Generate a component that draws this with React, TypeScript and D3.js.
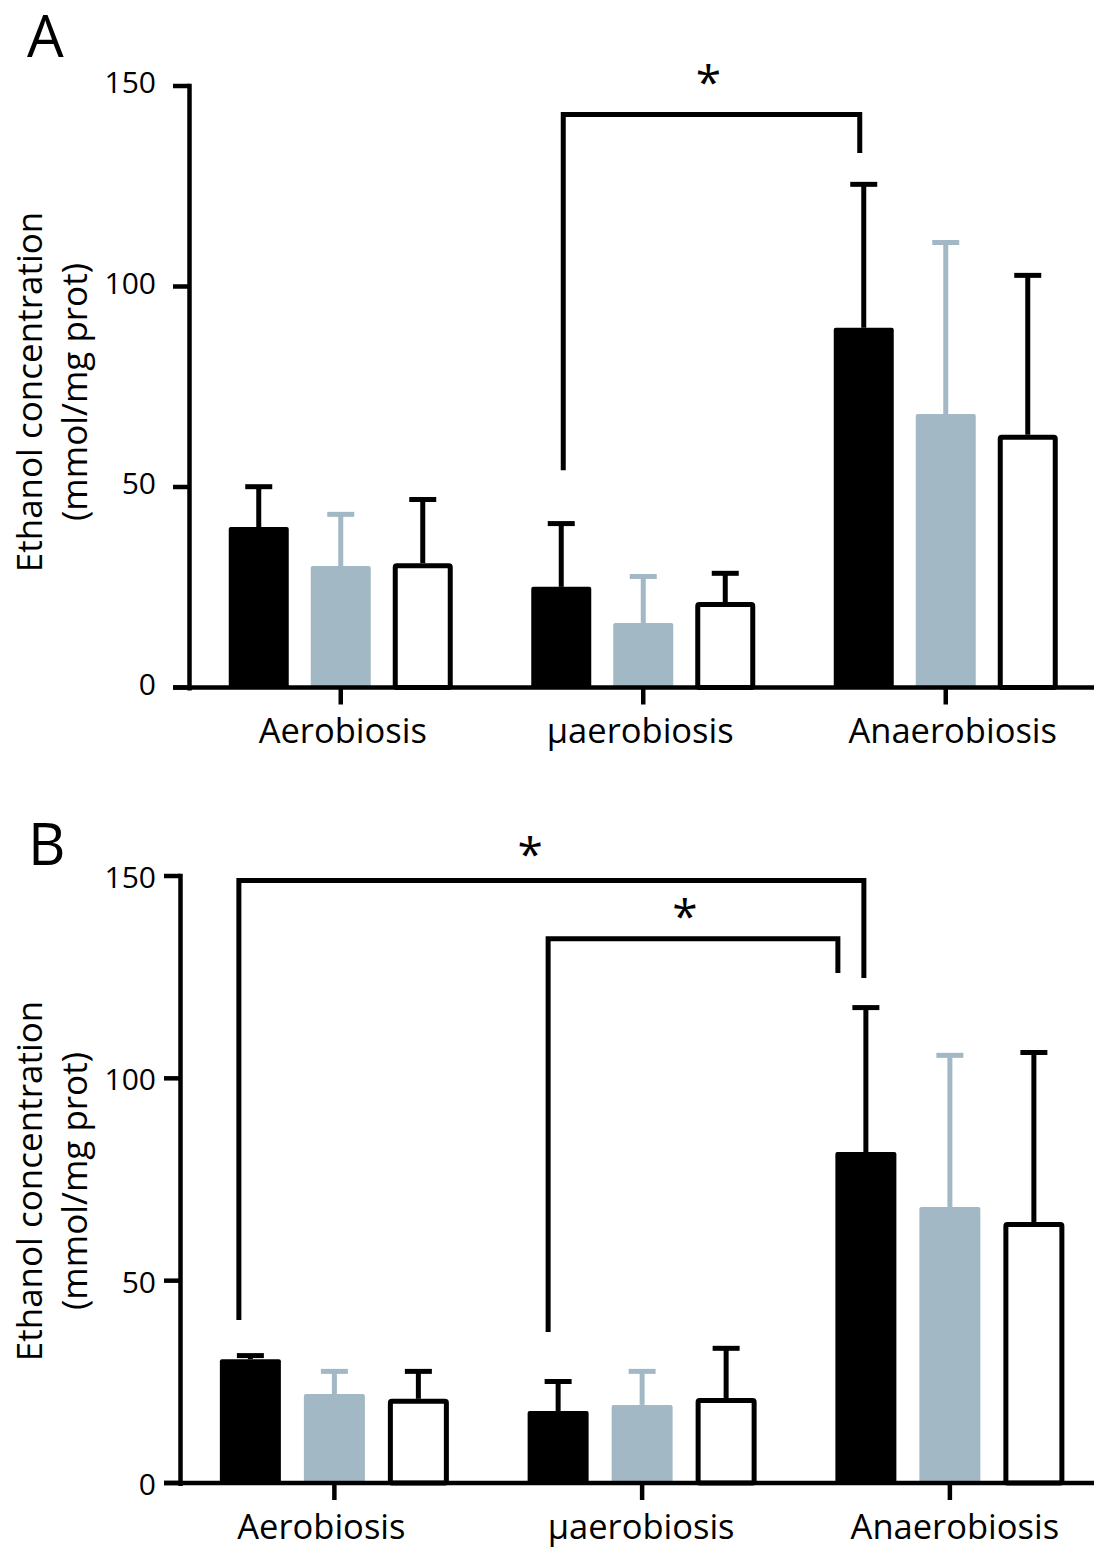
import React from 'react';
import * as d3 from 'd3';

// ---------- data ----------
const categories = ['Aerobiosis', 'μaerobiosis', 'Anaerobiosis'];
const seriesKeys = ['black', 'gray', 'white'];
const yTicks = [0, 50, 100, 150];

// Panel A (mean, upper SD)
const aBlackMean = [40.0, 25.1, 89.7];
const aBlackSd = [10.7, 16.4, 36.4];
const aGrayMean = [30.3, 16.1, 68.2];
const aGraySd = [13.5, 12.2, 43.4];
const aWhiteMean = [31.0, 21.3, 63.0];
const aWhiteSd = [16.5, 7.8, 40.4];

// Panel B (mean, upper SD)
const bBlackMean = [30.6, 17.8, 81.8];
const bBlackSd = [1.5, 7.9, 36.3];
const bGrayMean = [22.0, 19.3, 68.2];
const bGraySd = [6.2, 8.9, 38.1];
const bWhiteMean = [20.8, 21.0, 64.5];
const bWhiteSd = [7.4, 12.9, 42.5];

// significance brackets: [category, series] ends, levels in data units
const aBrackets = [
  { from: [1, 0], to: [2, 0], top: 142.9, leftEnd: 54.2, rightEnd: 133.3, label: '*' },
];
const bBrackets = [
  { from: [0, 0], to: [2, 0], top: 148.9, leftEnd: 40.3, rightEnd: 124.8, label: '*' },
  { from: [1, 0], to: [2, 0], top: 134.5, leftEnd: 37.3, rightEnd: 126.0, label: '*' },
];

// ---------- layout / style ----------
const GRAY = '#A2B8C4';
const FONT = "'Open Sans', 'Noto Sans', sans-serif";
const SW = 5;

const panels = [
  {
    letter: 'A',
    means: [aBlackMean, aGrayMean, aWhiteMean],
    sds: [aBlackSd, aGraySd, aWhiteSd],
    brackets: aBrackets,
    layout: {
      axisX: 189.5, step: 302.5, y0: 687.5, y150: 86, tickLeft: 173,
      barW: 60, innerStep: 82, labelBaseline: 743, labelDx: [2, -3, 7],
      titleCY: 392, letterX: 27, letterY: 57, tickDy: 7,
      bracketDx: [[2, -4]], starFrac: [0.49], starLift: [30],
    },
  },
  {
    letter: 'B',
    means: [bBlackMean, bGrayMean, bWhiteMean],
    sds: [bBlackSd, bGraySd, bWhiteSd],
    brackets: bBrackets,
    layout: {
      axisX: 180.5, step: 307.75, y0: 1483, y150: 876, tickLeft: 164,
      barW: 61, innerStep: 84, labelBaseline: 1539, labelDx: [-13, -1, 5],
      titleCY: 1181, letterX: 28, letterY: 865, tickDy: 12,
      bracketDx: [[-11.5, -2], [-10, -28]], starFrac: [0.466, 0.472], starLift: [24, 20],
    },
  },
];

function Panel({ p }: { p: any }) {
  const L = p.layout;
  const x = d3
    .scaleBand<string>()
    .domain(categories)
    .range([L.axisX, L.axisX + L.step * categories.length])
    .paddingInner(0)
    .paddingOuter(0);
  const inner = d3
    .scalePoint<string>()
    .domain(seriesKeys)
    .range([-L.innerStep, L.innerStep]);
  const y = d3.scaleLinear().domain([0, 150]).range([L.y0, L.y150]);
  const cx = (ci: number, si: number) =>
    (x(categories[ci]) as number) + x.bandwidth() / 2 + (inner(seriesKeys[si]) as number);
  const capW = 27;

  const errs: any[] = [];
  const bars: any[] = [];
  seriesKeys.forEach((s, si) => {
    categories.forEach((c, ci) => {
      const m = p.means[si][ci];
      const sd = p.sds[si][ci];
      const c0 = cx(ci, si);
      const col = s === 'gray' ? GRAY : '#000';
      const yTop = y(m + sd) + SW / 2;
      errs.push(
        <g key={`e-${s}-${ci}`} stroke={col} strokeWidth={SW} fill="none">
          <line x1={c0} x2={c0} y1={y(m)} y2={yTop} />
          <line x1={c0 - capW / 2} x2={c0 + capW / 2} y1={yTop} y2={yTop} />
        </g>
      );
      if (s === 'white') {
        bars.push(
          <rect
            key={`b-${s}-${ci}`}
            x={c0 - L.barW / 2 + SW / 2}
            y={y(m) + SW / 2}
            width={L.barW - SW}
            height={L.y0 - y(m) - SW / 2}
            rx={1.5}
            fill="#fff"
            stroke="#000"
            strokeWidth={SW}
          />
        );
      } else {
        bars.push(
          <rect
            key={`b-${s}-${ci}`}
            x={c0 - L.barW / 2}
            y={y(m)}
            width={L.barW}
            height={L.y0 - y(m)}
            rx={2}
            fill={col}
          />
        );
      }
    });
  });

  const bracketEls = p.brackets.map((b: any, i: number) => {
    const xl = cx(b.from[0], b.from[1]) + L.bracketDx[i][0];
    const xr = cx(b.to[0], b.to[1]) + L.bracketDx[i][1];
    const path = d3.path();
    path.moveTo(xl, y(b.leftEnd));
    path.lineTo(xl, y(b.top));
    path.lineTo(xr, y(b.top));
    path.lineTo(xr, y(b.rightEnd));
    const sx = xl + (xr - xl) * L.starFrac[i];
    const sy = y(b.top) - SW / 2 - L.starLift[i];
    return (
      <g key={`br-${i}`}>
        <path d={path.toString()} fill="none" stroke="#000" strokeWidth={SW} strokeLinejoin="miter" />
        <text x={sx} y={sy + 17} textAnchor="middle" fontFamily={FONT} fontSize={46}>
          {b.label}
        </text>
      </g>
    );
  });

  return (
    <g>
      <text x={L.letterX} y={L.letterY} fontFamily={FONT} fontSize={58}>
        {p.letter}
      </text>
      <text
        transform={`translate(42,${L.titleCY}) rotate(-90)`}
        textAnchor="middle"
        fontFamily={FONT}
        fontSize={35}
      >
        Ethanol concentration
      </text>
      <text
        transform={`translate(87,${L.titleCY}) rotate(-90)`}
        textAnchor="middle"
        fontFamily={FONT}
        fontSize={35}
      >
        (mmol/mg prot)
      </text>
      {errs}
      {bars}
      {bracketEls}
      {/* y axis */}
      <line x1={L.axisX} x2={L.axisX} y1={L.y150 - 2.25} y2={L.y0 + 3} stroke="#000" strokeWidth={4.5} />
      {yTicks.map((t) => (
        <g key={`yt-${t}`}>
          <line x1={L.tickLeft} x2={L.axisX} y1={y(t)} y2={y(t)} stroke="#000" strokeWidth={4.5} />
          <text x={156} y={y(t) + L.tickDy} textAnchor="end" fontFamily={FONT} fontSize={30}>
            {t}
          </text>
        </g>
      ))}
      {/* x axis */}
      <line x1={L.tickLeft} x2={1094} y1={L.y0} y2={L.y0} stroke="#000" strokeWidth={4.5} />
      {categories.map((c, ci) => {
        const xc = (x(c) as number) + x.bandwidth() / 2;
        return (
          <g key={`xt-${ci}`}>
            <line x1={xc} x2={xc} y1={L.y0} y2={L.y0 + 17} stroke="#000" strokeWidth={4.5} />
            <text x={xc + L.labelDx[ci]} y={L.labelBaseline} textAnchor="middle" fontFamily={FONT} fontSize={34.5}>
              {c}
            </text>
          </g>
        );
      })}
    </g>
  );
}

export default function App() {
  return (
    <svg
      width={1094}
      height={1550}
      viewBox="0 0 1094 1550"
      style={{ position: 'absolute', left: 0, top: 0, display: 'block', background: '#fff' }}
    >
      <rect width={1094} height={1550} fill="#fff" />
      {panels.map((p) => (
        <Panel key={p.letter} p={p} />
      ))}
    </svg>
  );
}
